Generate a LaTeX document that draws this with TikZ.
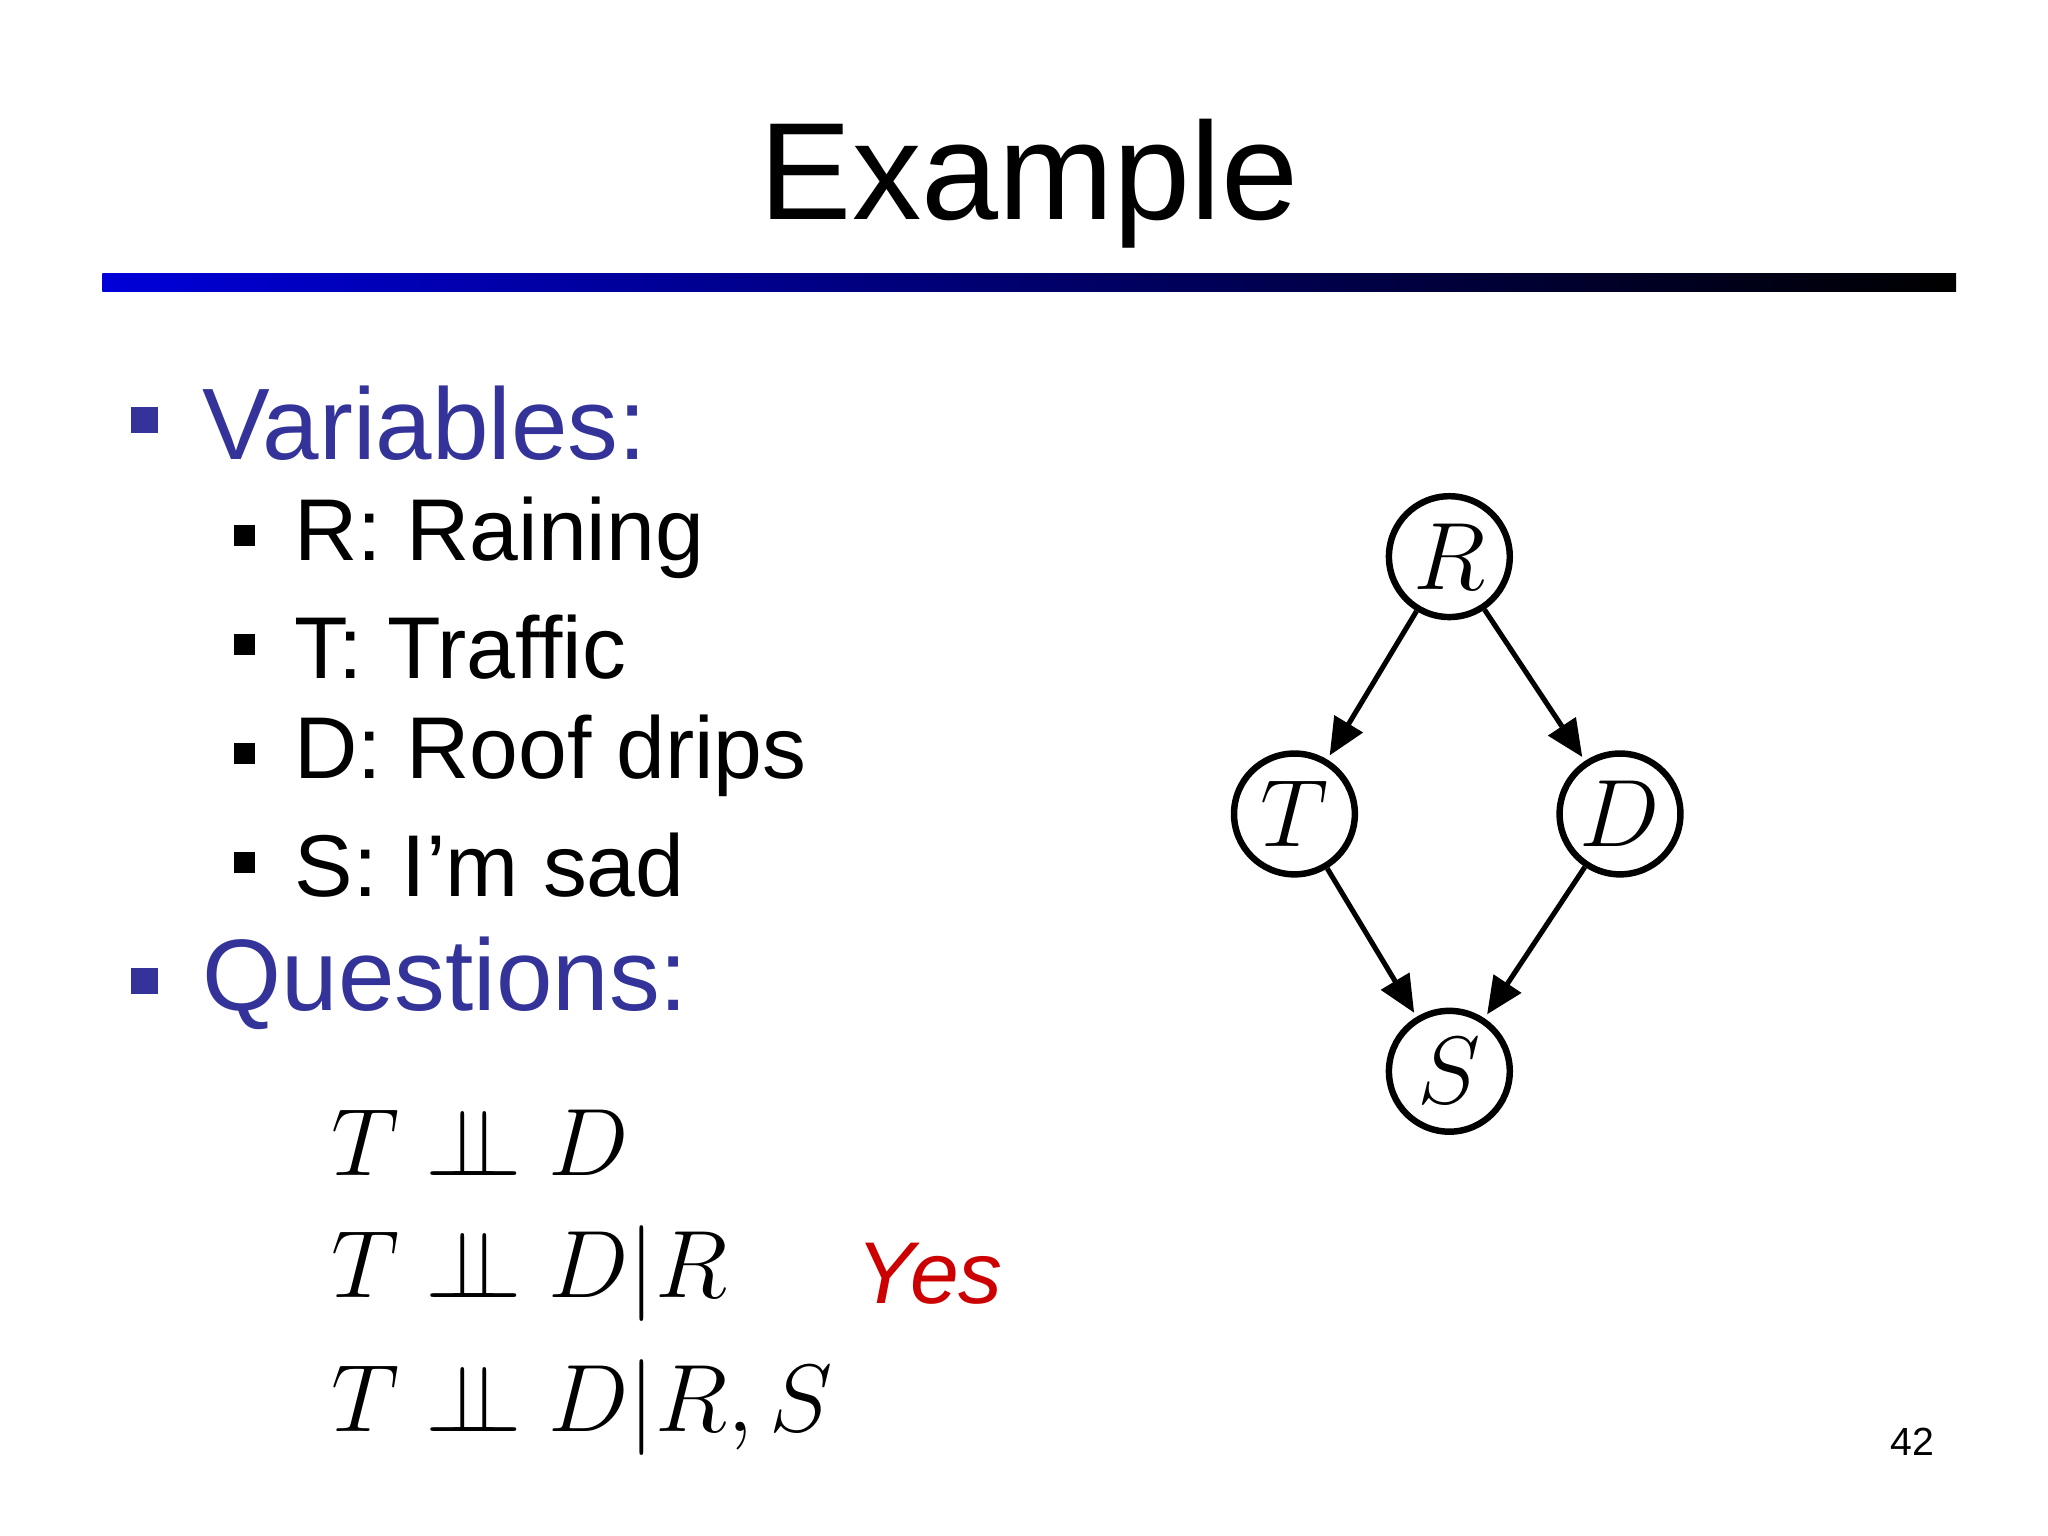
\documentclass[tikz,border=0pt]{standalone}
\usepackage{fontspec}
\setmainfont{Liberation Sans}
\usepackage{amsmath}
\usetikzlibrary{arrows.meta}
\definecolor{hblue}{RGB}{51,51,153}
\definecolor{yesred}{RGB}{204,0,0}
\newcommand{\indep}{\mathrel{\perp\mkern-10mu\perp}}
\begin{document}
\begin{tikzpicture}[x=0.01cm,y=-0.01cm,
  bn/.style={circle,draw,line width=1.4pt,minimum size=0.92cm,inner sep=0pt,font=\fontsize{20}{24}\selectfont},
  arr/.style={-{Triangle[length=8pt,width=7pt]},line width=1.1pt,shorten >=1pt},
  bigb/.style={fill=hblue,minimum size=0.2cm,inner sep=0pt},
  smallb/.style={fill=black,minimum size=0.16cm,inner sep=0pt},
  lvl/.style={anchor=west,text=hblue,font=\fontsize{22}{26}\selectfont},
  sub/.style={anchor=west,font=\fontsize{19}{23}\selectfont},
  mth/.style={anchor=west,font=\fontsize{21}{25}\selectfont}]
\useasboundingbox (0,0) rectangle (1560,1170);
\fill[white] (0,0) rectangle (1560,1170);
\node[font=\fontsize{30}{36}\selectfont] (title) at (784,140) {Example};
\shade[left color=blue!85!black,right color=black] (78,208) rectangle (1490,222);
\node[bigb] (b1) at (110,320) {};
\node[lvl] (v) at (142,322) {Variables:};
\node[smallb] (s1) at (186,408) {}; \node[sub] (t1) at (212,410) {R: Raining};
\node[smallb] (s2) at (186,491) {}; \node[sub] (t2) at (212,493) {T: Traffic};
\node[smallb] (s3) at (186,574) {}; \node[sub] (t3) at (212,576) {D: Roof drips};
\node[smallb] (s4) at (186,657) {}; \node[sub] (t4) at (212,659) {S: I’m sad};
\node[bigb] (b2) at (110,747) {};
\node[lvl] (q) at (142,749) {Questions:};
\node[mth] (m1) at (240,870) {$T\indep D$};
\node[mth] (m2) at (240,970) {$T\indep D|R$};
\node[mth] (m3) at (240,1072) {$T\indep D|R,S$};
\node[anchor=west,text=yesred,font=\fontsize{19}{23}\selectfont\itshape] (yes) at (640,970) {Yes};
\node[font=\fontsize{8.5}{10}\selectfont] (pg) at (1457,1098) {42};
\node[bn] (R) at (1104,424) {$R$};
\node[bn] (T) at (986,620) {$T$};
\node[bn] (D) at (1234,620) {$D$};
\node[bn] (S) at (1104,816) {$S$};
\draw[arr] (R) -- (T);
\draw[arr] (R) -- (D);
\draw[arr] (T) -- (S);
\draw[arr] (D) -- (S);
\end{tikzpicture}
\end{document}
